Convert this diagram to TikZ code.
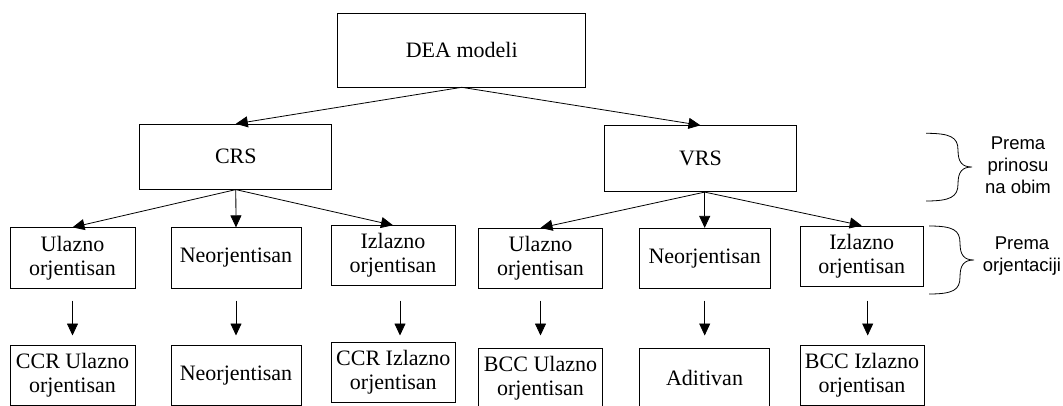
\documentclass[tikz,border=0pt]{standalone}
\usepackage{fontspec}
\setmainfont{Liberation Serif}
\setsansfont{Liberation Sans}
\usetikzlibrary{arrows.meta}

\tikzset{
    box/.style={draw, rectangle, line width=0.8pt, align=center, inner sep=1pt,
        font=\fontsize{22}{24}\selectfont},
    arr/.style={-{Triangle[length=12pt, width=11pt]}, line width=0.8pt},
    sidenote/.style={align=center, font=\sffamily\fontsize{18.5}{22}\selectfont},
    bracepath/.style={line width=0.8pt}
}

\begin{document}
\begin{tikzpicture}[x=1pt, y=-1pt]
                \useasboundingbox (0, 0) rectangle (1063, 405);

                \node[box, minimum width=248pt, minimum height=74pt] (dea) at (461.7, 49.9) {DEA modeli};

                \node[box, minimum width=192pt, minimum height=65pt] (crs) at (235.8, 156.7) {CRS};
                \node[box, minimum width=192pt, minimum height=66pt] (vrs) at (700.5, 158.7) {VRS};

                \node[box, minimum width=125pt, minimum height=60.5pt] (crsin) at (72.5, 258) {Ulazno\\orjentisan};
                \node[box, minimum width=130pt, minimum height=60.5pt] (crsno) at (236, 258) {Neorjentisan};
                \node[box, minimum width=124pt, minimum height=59.3pt] (crsout) at (393, 255.3) {Izlazno\\orjentisan};
                \node[box, minimum width=124.4pt, minimum height=60pt] (vrsin) at (540.5, 258.3) {Ulazno\\orjentisan};
                \node[box, minimum width=130.7pt, minimum height=60pt] (vrsno) at (704.7, 258.3) {Neorjentisan};
                \node[box, minimum width=123.3pt, minimum height=60.7pt] (vrsout) at (861.7, 256.3) {Izlazno\\orjentisan};

                \node[box, minimum width=125pt, minimum height=60pt] (ccrin) at (72.5, 375.7) {CCR Ulazno\\orjentisan};
                \node[box, minimum width=130pt, minimum height=60pt] (ccrno) at (236, 375.7) {Neorjentisan};
                \node[box, minimum width=123.3pt, minimum height=59.6pt] (ccrout) at (393.3, 372.5) {CCR Izlazno\\orjentisan};
                \node[box, minimum width=124.4pt, minimum height=60pt] (bccin) at (540.5, 378.3) {BCC Ulazno\\orjentisan};
                \node[box, minimum width=130.4pt, minimum height=60pt] (add) at (704.5, 378) {Aditivan};
                \node[box, minimum width=124pt, minimum height=60pt] (bccout) at (862, 375.7) {BCC Izlazno\\orjentisan};

                \draw[arr] (dea.south) -- (crs.north);
                \draw[arr] (dea.south) -- (vrs.north);

                \draw[arr] (crs.south) -- (crsin.north);
                \draw[arr] (crs.south) -- (crsno.north);
                \draw[arr] (crs.south) -- (crsout.north);
                % the VRS fan starts right above the middle box
                \coordinate (vrsfoot) at (vrsno.north |- vrs.south);
                \draw[arr] (vrsfoot) -- (vrsin.north);
                \draw[arr] (vrsfoot) -- (vrsno.north);
                \draw[arr] (vrsfoot) -- (vrsout.north);

                % arrows between the two lower rows stand free of the boxes
                \coordinate (top3) at (0, 300.5);
                \coordinate (tip3) at (0, 335.5);
                \draw[arr] (crsin.south |- top3) -- (crsin.south |- tip3);
                \draw[arr] (crsno.south |- top3) -- (crsno.south |- tip3);
                \draw[arr] ([xshift=7pt]crsout.south |- top3) -- ([xshift=7pt]crsout.south |- tip3);
                \draw[arr] (vrsin.south |- top3) -- (vrsin.south |- tip3);
                \draw[arr] (vrsno.south |- top3) -- (vrsno.south |- tip3);
                \draw[arr] ([xshift=6pt]vrsout.south |- top3) -- ([xshift=6pt]vrsout.south |- tip3);

                \draw[bracepath] (926, 133.3) .. controls (950, 133.3) and (958, 137) .. (958, 150)
                    .. controls (958, 162) and (962, 167) .. (972, 167)
                    .. controls (962, 167) and (958, 172) .. (958, 184)
                    .. controls (958, 197) and (950, 201) .. (926, 201);
                \node[sidenote] (prinos) at (1018, 165) {Prema\\prinosu\\na obim};

                \draw[bracepath] (929, 226) .. controls (953, 226) and (960, 230) .. (960, 243)
                    .. controls (960, 255) and (964, 260) .. (974, 260)
                    .. controls (964, 260) and (960, 265) .. (960, 277)
                    .. controls (960, 290) and (953, 294) .. (929, 294);
                \node[sidenote] (orijent) at (1022, 256) {Prema\\orjentaciji};
\end{tikzpicture}
\end{document}
